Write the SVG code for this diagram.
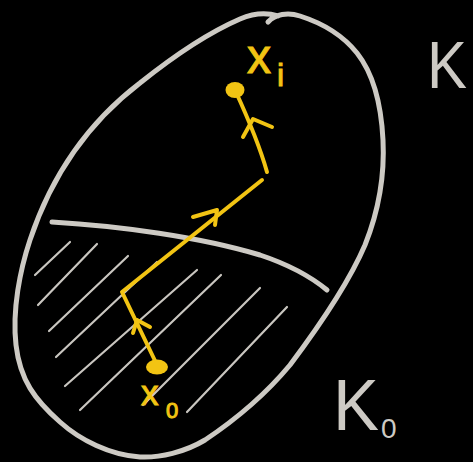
<svg xmlns="http://www.w3.org/2000/svg" width="473" height="462" viewBox="0 0 473 462">
<style>
.ink{fill:none;stroke:#cdcac4;stroke-linecap:round;stroke-linejoin:round}
.hatch{fill:none;stroke:#c9c6c0;stroke-width:2.2;stroke-linecap:round}
.path{fill:none;stroke:#f2c413;stroke-width:4;stroke-linecap:round;stroke-linejoin:round}
.dot{fill:#f2c413}
.lbl{font-family:"Liberation Sans",Arial,sans-serif;fill:#f2c413;stroke:#f2c413;stroke-width:1}
.klbl{font-family:"Liberation Sans",Arial,sans-serif;fill:#cdcac4}
</style>
<rect width="473" height="462" fill="#000"/>
<g id="region-K">
<path class="ink" stroke-width="5" d="M268,22 C275,14 288,12 300,16 C325,24 345,38 357,53 C372,72 381,100 383,140 C385,180 377,215 365,245 C350,280 320,325 290,365 C265,395 235,420 205,440 C185,452 160,458 140,457 C110,455 80,440 60,422 C35,400 20,380 16,345 C12,310 20,270 30,240 C50,180 85,125 140,83 C175,55 210,32 240,19 C252,14 265,12 278,16"/>
</g>
<g id="region-K0">
<path class="ink" stroke-width="5" d="M52,222 C120,226 200,237 260,255 C290,265 310,276 327,290"/>
<g id="hatching">
<line class="hatch" x1="35" y1="275" x2="70" y2="242"/>
<line class="hatch" x1="38" y1="305" x2="97" y2="244"/>
<line class="hatch" x1="49" y1="331" x2="128" y2="256"/>
<line class="hatch" x1="56" y1="357" x2="157" y2="262"/>
<line class="hatch" x1="65" y1="386" x2="197" y2="270"/>
<line class="hatch" x1="80" y1="410" x2="221" y2="275"/>
<line class="hatch" x1="143" y1="405" x2="260" y2="288"/>
<line class="hatch" x1="187" y1="412" x2="287" y2="307"/>
</g>
</g>
<g id="connectors">
<path class="path" d="M158,367 L122,292 L262,180"/>
<path class="path" d="M267,172 Q258,140 235,90"/>
<path class="path" d="M133,333 L137,320 L150,327"/>
<path class="path" d="M193,217 L217,210 L215,225"/>
<path class="path" d="M243,137 L253,119 L272,127"/>
</g>
<g id="node-x0">
<ellipse class="dot" cx="157" cy="367" rx="11" ry="7.5"/>
<text class="lbl" x="141" y="405" font-size="35">x</text>
<text class="lbl" x="166" y="418" font-size="22">0</text>
</g>
<g id="node-xi">
<ellipse class="dot" cx="235" cy="90" rx="9.5" ry="8"/>
<text class="lbl" x="247" y="73" font-size="48">x</text>
<text class="lbl" x="277" y="86" font-size="32">i</text>
</g>
<g id="label-K">
<text class="klbl" x="427" y="88" font-size="66" textLength="40" lengthAdjust="spacingAndGlyphs">K</text>
</g>
<g id="label-K0">
<text class="klbl" x="333" y="430" font-size="72" textLength="46" lengthAdjust="spacingAndGlyphs">K</text>
<text class="klbl" x="381" y="438" font-size="28">0</text>
</g>
</svg>
